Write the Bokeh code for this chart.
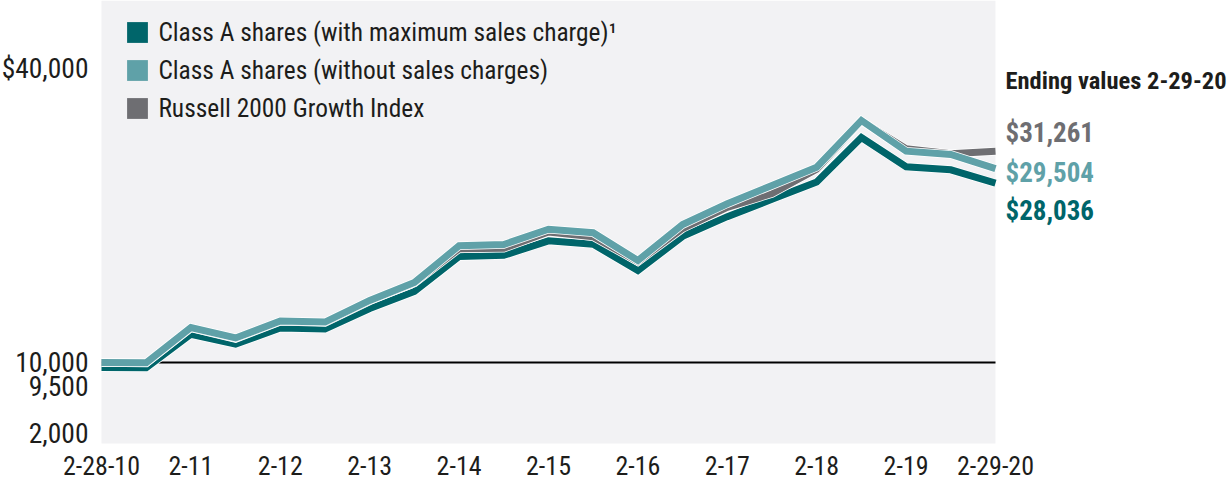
from bokeh.plotting import figure
from bokeh.models import (ColumnDataSource, Legend, LegendItem, LabelSet, Label,
                          Range1d, BoxAnnotation)
from bokeh.embed import file_html
from bokeh.resources import INLINE
from bokeh.core.properties import value

# ---------------- data ----------------
periods = ["2-28-10", "8-31-10", "2-28-11", "8-31-11", "2-29-12", "8-31-12",
           "2-28-13", "8-31-13", "2-28-14", "8-31-14", "2-28-15", "8-31-15",
           "2-29-16", "8-31-16", "2-28-17", "8-31-17", "2-28-18", "8-31-18",
           "2-28-19", "8-31-19", "2-29-20"]

class_a_max = [9500, 9481, 12844, 11847, 13471, 13367, 15428, 17148, 20653, 20777,
               22240, 21898, 19247, 22686, 24672, 26420, 28168, 32633, 29697, 29384, 28036]
class_a_nsc = [10000, 9980, 13520, 12470, 14180, 14070, 16240, 18050, 21740, 21870,
               23410, 23050, 20260, 23880, 25970, 27810, 29650, 34350, 31260, 30930, 29504]
russell = [10000, 9950, 13480, 12420, 14150, 14030, 16200, 18000, 21450, 21500,
           23120, 22650, 20150, 23480, 25600, 27000, 29450, 34300, 31500, 31000, 31261]

initial_investment = 10000

series_names = ["Class A shares (with maximum sales charge)\u00b9",
                "Class A shares (without sales charges)",
                "Russell 2000 Growth Index"]

x_tick_idx = [0, 2, 4, 6, 8, 10, 12, 14, 16, 18, 20]
x_tick_labels = ["2-28-10", "2-11", "2-12", "2-13", "2-14", "2-15", "2-16",
                 "2-17", "2-18", "2-19", "2-29-20"]

y_tick_values = [40000, 10000, 9500, 2000]
y_tick_labels = ["$40,000", "10,000", "9,500", "2,000"]

# ---------------- style / layout ----------------
FONT = "Roboto Condensed, DejaVu Sans Condensed, Lato"
DARK = "#00656a"
LIGHT = "#5fa1a8"
GRAY = "#6e6e72"
BG = "#f2f2f4"
INK = "#1d1d1b"

W, H = 1230, 483
X_RANGE = (-2.2595, 25.2573)      # plot area spans index 0..20
Y_RANGE = (-2173, 46417)
PLOT_FLOOR = 1851                 # bottom edge of the shaded plot area

x = list(range(len(periods)))
last = x[-1]
src = ColumnDataSource(dict(x=x, a_max=class_a_max, a_nsc=class_a_nsc, r2g=russell))

p = figure(width=W, height=H, x_range=Range1d(*X_RANGE), y_range=Range1d(*Y_RANGE),
           output_backend="svg", toolbar_location=None,
           min_border_left=0, min_border_right=0, min_border_top=0, min_border_bottom=0,
           background_fill_color="white", border_fill_color="white",
           outline_line_color=None)
p.grid.visible = False
p.axis.visible = False

# shaded plot area
p.add_layout(BoxAnnotation(left=0, right=last, bottom=PLOT_FLOOR, top=Y_RANGE[1],
                           fill_color=BG, fill_alpha=1, line_color=None, level="underlay"))

# reference line at the initial $10,000
p.line(x=[x[0], x[-1]], y=[initial_investment, initial_investment],
       line_color="black", line_width=2)

# lines: dark first, then index, then light on top
for col, color in [("a_max", DARK), ("r2g", GRAY), ("a_nsc", LIGHT)]:
    p.line("x", col, source=src, line_color="white", line_width=8.5, line_join="miter")
    p.line("x", col, source=src, line_color=color, line_width=7, line_join="miter")

# legend (square swatches)
nan = float("nan")
items = []
for name, color in zip(series_names, [DARK, LIGHT, GRAY]):
    q = p.quad(left=[nan], right=[nan], top=[nan], bottom=[nan],
               fill_color=color, line_color=None)
    items.append(LegendItem(label=name, renderers=[q]))

legend = Legend(items=items, location=(124.4, 360), orientation="vertical",
                glyph_width=26, glyph_height=26, label_height=26, label_standoff=8,
                spacing=8, padding=0, margin=0, background_fill_alpha=0,
                border_line_color=None, label_text_font=FONT,
                label_text_font_size="25.4px", label_text_color=INK)
p.add_layout(legend)

# y tick labels
ysrc = ColumnDataSource(dict(y=y_tick_values, text=y_tick_labels, dy=[-4, 0, -19, 9.5]))
p.add_layout(LabelSet(x=0, x_offset=-13, y="y", text="text", y_offset="dy",
                      source=ysrc, text_align="right", text_baseline="middle",
                      text_font=value(FONT), text_font_size="27.5px", text_color=INK))

# x tick labels
xsrc = ColumnDataSource(dict(x=x_tick_idx, text=x_tick_labels))
p.add_layout(LabelSet(x="x", y=PLOT_FLOOR, y_offset=-22, text="text", source=xsrc,
                      text_align="center", text_baseline="middle",
                      text_font=value(FONT), text_font_size="26px", text_color=INK))

# ending values
p.add_layout(Label(x=last, y=russell[-1], x_offset=10, y_offset=71,
                   text="Ending values " + periods[-1], text_font=FONT,
                   text_font_style="bold", text_font_size="24.5px", text_color=INK,
                   text_baseline="middle"))
for vals, color, dy in [(russell, GRAY, 18), (class_a_nsc, LIGHT, -4), (class_a_max, DARK, -28)]:
    p.add_layout(Label(x=last, y=vals[-1], x_offset=10, y_offset=dy,
                       text=f"${vals[-1]:,}", text_font=FONT, text_font_style="bold",
                       text_font_size="27px", text_color=color, text_baseline="middle"))

open("out.html", "w").write(file_html(p, INLINE))
